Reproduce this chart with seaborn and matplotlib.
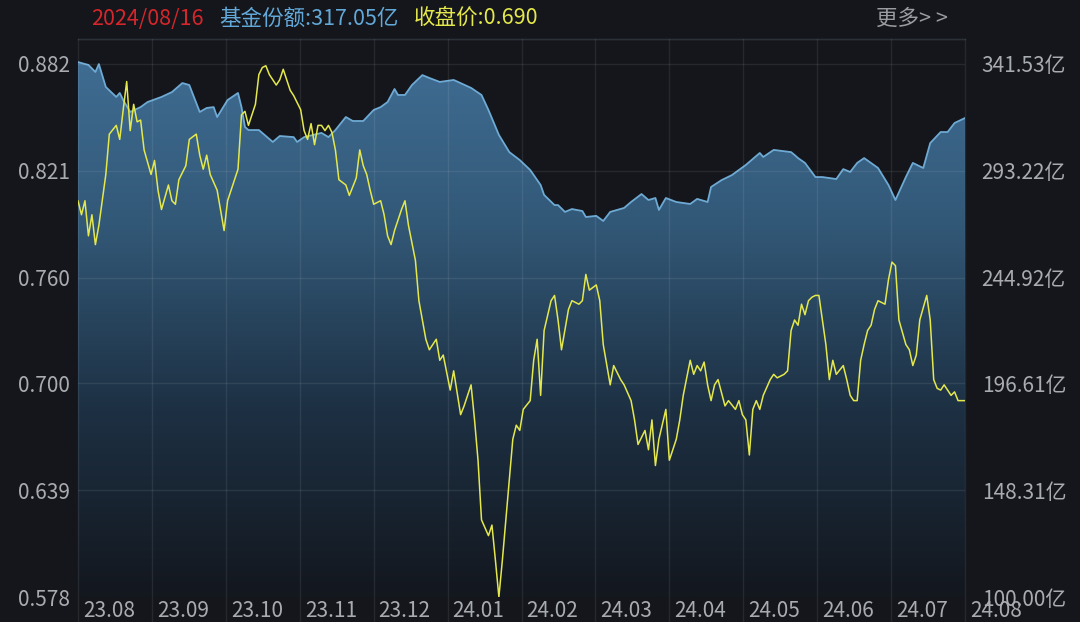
import numpy as np
import pandas as pd
import seaborn as sns
import matplotlib.pyplot as plt
from matplotlib.colors import LinearSegmentedColormap
from matplotlib.transforms import offset_copy

# 交易日序号: 0 = 2023-08-01, 255 = 2024-08-16
n_days = 255

# 基金份额 (亿)
share_day = [0, 3, 5, 6, 8, 11, 12, 13, 15, 18, 20, 24, 27, 30, 32, 35, 37, 39, 40, 43,
             46, 47, 48, 49, 52, 56, 58, 62, 63, 65, 70, 72, 74, 77, 79, 82, 85, 87, 89, 91,
             92, 94, 96, 99, 101, 104, 108, 113, 116, 118, 121, 124, 127, 130, 133, 134, 137, 138, 140, 142,
             145, 146, 149, 151, 153, 157, 159, 162, 164, 166, 167, 169, 172, 176, 178, 181, 182, 185, 188, 192,
             196, 197, 200, 205, 206, 207, 209, 212, 214, 218, 220, 222, 224, 226, 230, 233, 235, 238, 240, 243,
             245, 248, 250, 252, 255]
share_val = [342.4, 341.1, 337.9, 341.5, 331.1, 326.6, 328.4, 325.2, 319.8, 322.0, 324.3, 326.6, 328.8, 332.9, 332.0, 319.8, 321.6, 322.0, 317.5, 325.2,
             328.4, 322.0, 313.0, 311.6, 311.6, 306.2, 308.9, 308.4, 306.2, 308.4, 310.3, 308.4, 311.6, 317.5, 315.7, 315.7, 320.7, 322.0, 324.3, 330.2,
             327.5, 327.5, 332.0, 336.5, 335.2, 333.4, 334.3, 330.7, 327.5, 320.7, 309.4, 301.6, 298.0, 293.5, 286.7, 282.2, 277.6, 277.6, 274.5, 275.8,
             274.9, 272.2, 272.7, 270.4, 274.5, 276.3, 279.0, 282.6, 279.9, 280.8, 275.4, 280.8, 279.0, 278.1, 280.4, 279.0, 285.8, 288.9, 291.2, 295.8,
             301.2, 299.4, 302.6, 301.6, 300.3, 298.9, 296.7, 290.3, 290.3, 289.4, 293.9, 292.6, 296.7, 298.9, 294.4, 286.7, 279.9, 290.3, 296.7, 294.4,
             305.7, 310.7, 310.7, 314.8, 317.05]

# 收盘价
price_day = [0, 1, 2, 3, 4, 5, 6, 8, 9, 11, 12, 13, 14, 15, 16, 17, 18, 19, 21, 22,
             23, 24, 26, 27, 28, 29, 31, 32, 34, 35, 36, 37, 38, 40, 42, 43, 44, 46, 47, 48,
             49, 51, 52, 53, 54, 55, 57, 58, 59, 60, 61, 62, 64, 65, 66, 67, 68, 69, 70, 71,
             72, 73, 74, 75, 77, 78, 80, 81, 82, 83, 84, 85, 87, 88, 89, 90, 91, 93, 94, 95,
             97, 98, 100, 101, 103, 104, 105, 107, 108, 110, 111, 113, 114, 115, 116, 118, 119, 120, 121, 122,
             123, 124, 125, 126, 127, 128, 130, 131, 132, 133, 134, 136, 137, 138, 139, 141, 142, 144, 145, 146,
             147, 149, 150, 151, 153, 154, 156, 157, 159, 160, 161, 163, 164, 165, 166, 167, 169, 170, 171, 172,
             173, 174, 176, 177, 178, 179, 180, 181, 182, 183, 184, 186, 187, 189, 190, 191, 192, 193, 194, 195,
             196, 197, 199, 200, 201, 203, 204, 205, 206, 207, 208, 209, 210, 211, 212, 213, 215, 216, 217, 218,
             220, 221, 222, 223, 224, 225, 226, 227, 228, 229, 230, 232, 233, 234, 235, 236, 238, 239, 240, 241,
             242, 244, 245, 246, 247, 248, 249, 251, 252, 253, 255]
price_val = [0.804, 0.796, 0.804, 0.784, 0.796, 0.779, 0.790, 0.819, 0.842, 0.847, 0.839, 0.856, 0.872, 0.844, 0.859, 0.849, 0.850, 0.833, 0.819, 0.827,
             0.810, 0.799, 0.813, 0.804, 0.802, 0.816, 0.824, 0.839, 0.842, 0.830, 0.822, 0.830, 0.819, 0.810, 0.787, 0.804, 0.810, 0.822, 0.853, 0.855,
             0.847, 0.859, 0.876, 0.880, 0.881, 0.876, 0.870, 0.873, 0.879, 0.873, 0.867, 0.864, 0.856, 0.844, 0.839, 0.848, 0.836, 0.847, 0.847, 0.844,
             0.847, 0.843, 0.833, 0.816, 0.813, 0.807, 0.817, 0.833, 0.824, 0.819, 0.810, 0.802, 0.804, 0.796, 0.784, 0.779, 0.787, 0.799, 0.804, 0.790,
             0.770, 0.747, 0.725, 0.719, 0.725, 0.713, 0.716, 0.696, 0.707, 0.682, 0.687, 0.699, 0.679, 0.656, 0.622, 0.613, 0.619, 0.599, 0.578, 0.599,
             0.622, 0.645, 0.668, 0.676, 0.673, 0.685, 0.690, 0.713, 0.725, 0.693, 0.730, 0.747, 0.750, 0.736, 0.719, 0.742, 0.747, 0.745, 0.747, 0.762,
             0.753, 0.756, 0.747, 0.722, 0.699, 0.710, 0.702, 0.699, 0.690, 0.679, 0.665, 0.673, 0.662, 0.679, 0.653, 0.668, 0.685, 0.656, 0.662, 0.668,
             0.679, 0.693, 0.713, 0.705, 0.710, 0.707, 0.712, 0.699, 0.690, 0.699, 0.702, 0.687, 0.690, 0.685, 0.690, 0.682, 0.679, 0.659, 0.685, 0.690,
             0.685, 0.693, 0.702, 0.705, 0.703, 0.705, 0.707, 0.730, 0.736, 0.733, 0.745, 0.739, 0.747, 0.749, 0.750, 0.750, 0.722, 0.702, 0.713, 0.705,
             0.710, 0.702, 0.693, 0.690, 0.690, 0.713, 0.722, 0.730, 0.733, 0.742, 0.747, 0.745, 0.759, 0.769, 0.767, 0.736, 0.722, 0.719, 0.710, 0.716,
             0.736, 0.750, 0.736, 0.702, 0.697, 0.696, 0.699, 0.693, 0.695, 0.690, 0.690]

month_labels = ['23.08', '23.09', '23.10', '23.11', '23.12', '24.01', '24.02',
                '24.03', '24.04', '24.05', '24.06', '24.07', '24.08']
price_ticks = [0.578, 0.639, 0.700, 0.760, 0.821, 0.882]
share_ticks = [100.00, 148.31, 196.61, 244.92, 293.22, 341.53]

bg = '#14161b'
grid_c = '#2b2f36'
txt_c = '#a8abb0'

sns.set_theme(style='dark', rc={'figure.facecolor': bg, 'axes.facecolor': bg})
plt.rcParams['font.family'] = ['Noto Sans CJK SC', 'DejaVu Sans']

fig = plt.figure(figsize=(10.8, 6.22), dpi=100)
ax_p = fig.add_axes([78 / 1080, 1 - 597 / 622, (965 - 78) / 1080, (597 - 39) / 622])
ax_s = ax_p.twinx()
ax_p.set_zorder(ax_s.get_zorder() + 1)
ax_p.patch.set_visible(False)
ax_s.set_facecolor(bg)

p_lo, p_hi = 0.578, 0.882 + 25 * 0.304 / 533
s_lo, s_hi = 100.0, 341.53 + 25 * 241.53 / 533

# 份额面积 (渐变填充)
df_s = pd.DataFrame({'day': share_day, 'share': share_val})
poly = ax_s.fill_between(df_s['day'], df_s['share'], s_lo, color='none', lw=0)
cmap = LinearSegmentedColormap.from_list('fill', ['#13171e', '#1d3043', '#325877', '#416f96'])
grad = np.linspace(0, 1, 256).reshape(-1, 1)
im = ax_s.imshow(grad, extent=[0, n_days, s_lo, s_hi], origin='lower', aspect='auto', cmap=cmap, zorder=1)
im.set_clip_path(poly.get_paths()[0], transform=ax_s.transData)
sns.lineplot(data=df_s, x='day', y='share', ax=ax_s, color='#6eaad4', lw=1.3, zorder=2)

# 收盘价
df_p = pd.DataFrame({'day': price_day, 'price': price_val})
sns.lineplot(data=df_p, x='day', y='price', ax=ax_p, color='#e4e84c', lw=1.1, zorder=5)

ax_p.set_xlim(0, n_days)
ax_p.set_ylim(p_lo, p_hi)
ax_s.set_ylim(s_lo, s_hi)

# 网格线 (半透明, 叠在面积上)
for v in price_ticks[1:]:
    ax_p.axhline(v, color='white', alpha=0.08, lw=1, zorder=3)
for i in range(13):
    ax_p.axvline(n_days * i / 12, ymin=-0.05, ymax=1, color='white', alpha=0.08, lw=1,
                 clip_on=False, zorder=3)

ax_p.set_yticks(price_ticks)
ax_p.set_yticklabels([f'{v:.3f}' for v in price_ticks])
ax_s.set_yticks(share_ticks)
ax_s.set_yticklabels([f'{v:.2f}亿' for v in share_ticks])
ax_p.tick_params(axis='y', length=0, pad=6, labelsize=15, labelcolor=txt_c)
ax_s.tick_params(axis='y', length=0, pad=12, labelsize=15, labelcolor=txt_c)
ax_p.set_xticks([])
ax_s.set_xticks([])
ax_p.set_xlabel('')
ax_p.set_ylabel('')
ax_s.set_ylabel('')
ax_s.set_xlabel('')

for a in (ax_p, ax_s):
    for name, sp in a.spines.items():
        sp.set_visible(name == 'top')
        sp.set_color(grid_c)
        sp.set_linewidth(1)

trans = offset_copy(ax_p.get_xaxis_transform(), fig=fig, x=5, y=-14, units='dots')
for i, lab in enumerate(month_labels):
    ax_p.text(n_days * i / 12, 0, lab, transform=trans, ha='left', va='center',
              fontsize=15, color=txt_c, clip_on=False)

# 顶部信息
hy = 1 - 19 / 622
fig.text(91 / 1080, hy, '2024/08/16', color='#d4262b', fontsize=15.5, va='center')
fig.text(219 / 1080, hy, '基金份额:317.05亿', color='#62a8d8', fontsize=15.5, va='center')
fig.text(414 / 1080, hy, '收盘价:0.690', color='#e4e84c', fontsize=15.5, va='center')
fig.text(876 / 1080, hy, '更多> >', color='#9a9ca0', fontsize=15.5, va='center')

fig.savefig('out.png', dpi=100, facecolor=bg)
